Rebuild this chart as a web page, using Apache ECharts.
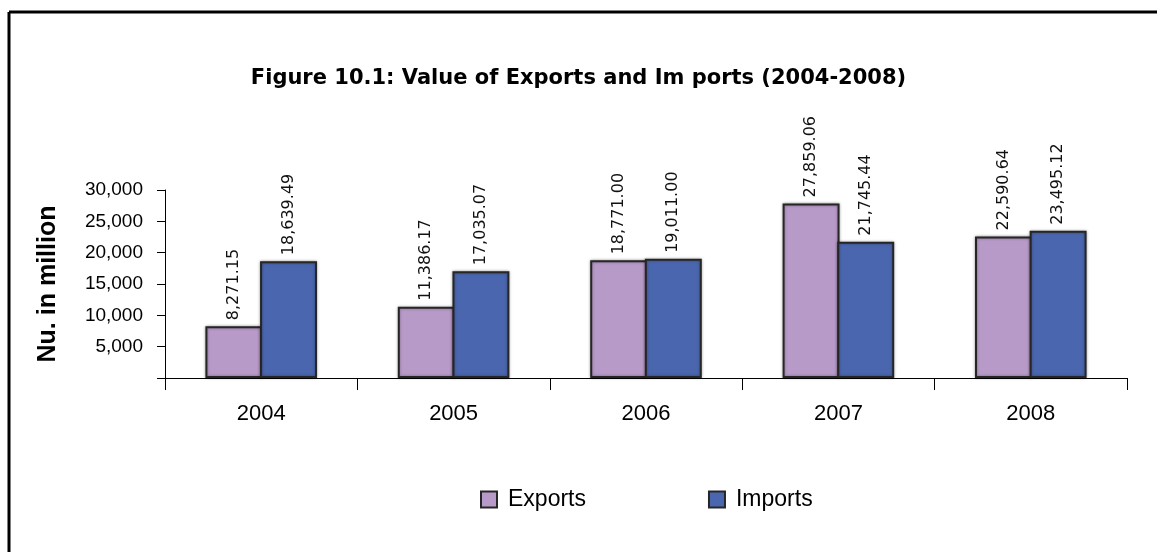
<!DOCTYPE html>
<html>
<head>
<meta charset="utf-8">
<script src="https://cdn.jsdelivr.net/npm/echarts@6/dist/echarts.min.js"></script>
<style>
html,body{margin:0;padding:0;background:#fff;}
#chart{width:1157px;height:552px;}
</style>
</head>
<body>
<div id="chart"></div>
<script>
var titleText = 'Figure 10.1: Value of Exports and Im ports (2004-2008)';
var categories = ['2004', '2005', '2006', '2007', '2008'];
var exportsValues = [8271.15, 11386.17, 18771.00, 27859.06, 22590.64];
var importsValues = [18639.49, 17035.07, 19011.00, 21745.44, 23495.12];
var seriesNames = ['Exports', 'Imports'];
var yTicks = [0, 5000, 10000, 15000, 20000, 25000, 30000];

function fmt(v) {
  return v.toLocaleString('en-US', {minimumFractionDigits: 2, maximumFractionDigits: 2});
}

var chart = echarts.init(document.getElementById('chart'), null, {renderer: 'canvas'});
var labelOpt = {
  show: true,
  position: 'top',
  rotate: 90,
  align: 'left',
  verticalAlign: 'middle',
  distance: 6,
  fontFamily: 'DejaVu Sans',
  fontSize: 16,
  color: '#111',
  formatter: function (p) { return fmt(p.value); }
};
var barItem = function (color) {
  return {
    color: color,
    borderColor: '#262626',
    borderWidth: 2,
    shadowColor: 'rgba(0,0,0,0.35)',
    shadowBlur: 3
  };
};

chart.setOption({
  animation: false,
  backgroundColor: '#fff',
  title: {
    text: titleText,
    left: 'center',
    top: 63,
    textStyle: {fontFamily: 'DejaVu Sans', fontWeight: 'bold', fontSize: 21, color: '#000'}
  },
  legend: {
    data: seriesNames,
    top: 483,
    left: 475,
    itemGap: 122,
    itemWidth: 16,
    itemHeight: 16,
    icon: 'rect',
    itemStyle: {borderColor: '#262626', borderWidth: 2},
    textStyle: {fontFamily: 'Liberation Sans', fontSize: 23, color: '#000', padding: [0, 0, 0, 6]}
  },
  grid: {left: 165, right: 30, top: 190, bottom: 174, containLabel: false},
  xAxis: {
    type: 'category',
    data: categories,
    axisLine: {lineStyle: {color: '#000', width: 1}},
    axisTick: {show: true, length: 12, lineStyle: {color: '#000'}},
    axisLabel: {margin: 25, fontFamily: 'Liberation Sans', fontSize: 22, color: '#000'}
  },
  yAxis: {
    type: 'value',
    min: yTicks[0],
    max: yTicks[yTicks.length - 1],
    interval: 5000,
    name: 'Nu. in million',
    nameLocation: 'middle',
    nameGap: 104,
    nameTextStyle: {fontFamily: 'Liberation Sans', fontWeight: 'bold', fontSize: 25, color: '#000'},
    axisLine: {show: true, lineStyle: {color: '#000', width: 1}},
    axisTick: {show: true, length: 8, lineStyle: {color: '#000'}},
    splitLine: {show: false},
    axisLabel: {
      margin: 22,
      fontFamily: 'Liberation Sans',
      fontSize: 19,
      color: '#000',
      formatter: function (v) { return v === 0 ? '' : v.toLocaleString('en-US'); }
    }
  },
  series: [
    {
      name: seriesNames[0], type: 'bar', data: exportsValues,
      barGap: '-4%', barCategoryGap: '42%',
      itemStyle: barItem('#b89ac8'),
      label: labelOpt
    },
    {
      name: seriesNames[1], type: 'bar', data: importsValues,
      barGap: '-4%', barCategoryGap: '42%',
      itemStyle: barItem('#4a66ae'),
      label: labelOpt
    }
  ],
  graphic: [
    {type: 'line', shape: {x1: 9, y1: 12, x2: 1157, y2: 12}, style: {stroke: '#000', lineWidth: 3}},
    {type: 'line', shape: {x1: 9, y1: 12, x2: 9, y2: 552}, style: {stroke: '#000', lineWidth: 3}}
  ]
});
</script>
</body>
</html>
